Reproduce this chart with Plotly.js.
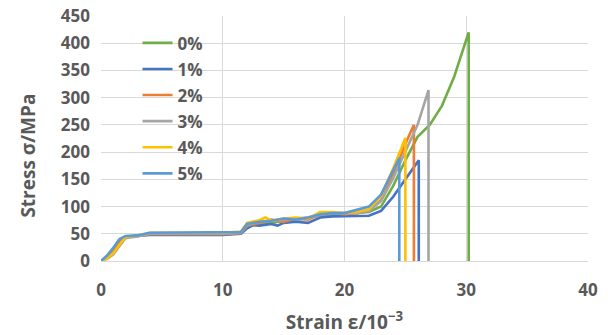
<!DOCTYPE html>
<html><head><meta charset="utf-8">
<script src="https://cdn.plot.ly/plotly-3.0.1.min.js"></script>
<style>html,body{margin:0;padding:0;background:#fff}</style>
</head><body><div id="chart" style="width:608px;height:335px"></div>
<script>
const seriesNames = ["0%", "1%", "2%", "3%", "4%", "5%"];
const seriesColors = ["#70AD47", "#4472C4", "#ED7D31", "#A5A5A5", "#FFC000", "#5B9BD5"];

const strain0 = [0,0.5,1,1.5,2,3,4,6,8,10,11.5,12,13,14,15,16,17,18,19,20,21,22,23,24,25,26,27,28,29,30.2,30.2];
const stress0 = [0,5,15,30,44,46,50,50,50,50,52,63,68,70,74,76,78,84,86,86,88,90,100,138,185,228,250,285,338,420,0];

const strain1 = [0,0.5,1,1.5,2,3,4,6,8,10,11.5,12,12.5,13,14,14.5,15,16,17,18,19,20,21,22,23,24,25,26.1,26.1];
const stress1 = [0,8,20,35,44,46,48,48,48,48,50,60,66,65,68,65,70,72,70,80,82,82,82,83,92,118,150,185,0];

const strain2 = [0,0.5,1,1.5,2,3,4,6,8,10,11.5,12,13,14,15,16,17,18,19,20,21,22,23,24,25,25.7,25.7];
const stress2 = [0,6,16,32,44,46,49,49,49,49,51,65,70,76,72,78,76,86,88,86,88,92,112,160,215,250,0];

const strain3 = [0,0.5,1,1.5,2,3,4,6,8,10,11.5,12,13,14,15,16,17,18,19,20,21,22,23,24,25,26,26.9,26.9];
const stress3 = [0,4,12,28,42,45,50,50,50,50,52,66,72,74,75,78,80,85,88,88,88,92,110,152,200,250,314,0];

const strain4 = [0,0.5,1,1.5,2,3,4,6,8,10,11.5,12,13,13.5,14,15,16,17,18,19,20,21,22,23,24,25,25];
const stress4 = [0,5,14,30,44,47,52,52,52,52,54,70,75,80,74,78,80,78,90,90,88,90,95,120,170,226,0];

const strain5 = [0,0.5,1,1.5,2,3,4,6,8,10,11.5,12,13,14,15,16,17,18,19,20,21,22,23,24,24.5,24.5];
const stress5 = [0,10,24,40,46,47,52,52,52,52,53,68,72,74,78,76,80,86,88,88,94,100,122,165,189,0];

const strains = [strain0, strain1, strain2, strain3, strain4, strain5];
const stresses = [stress0, stress1, stress2, stress3, stress4, stress5];

const xTicks = [0, 10, 20, 30, 40];
const yTicks = [0, 50, 100, 150, 200, 250, 300, 350, 400, 450];

const traces = seriesNames.map((n, i) => ({
  x: strains[i], y: stresses[i], name: n, type: 'scatter', mode: 'lines',
  legendgroup: 'g' + i,
  line: {color: seriesColors[i], width: 2.6}
}));

const fontFam = '"Open Sans", "DejaVu Sans", sans-serif';
const grey = '#595959';
const layout = {
  width: 608, height: 335,
  margin: {l: 101, r: 20, t: 16, b: 74},
  paper_bgcolor: '#fff', plot_bgcolor: '#fff',
  showlegend: true,
  legend: {x: 0.075, y: 0.962, xanchor: 'left', yanchor: 'top', bgcolor: 'rgba(0,0,0,0)',
    font: {family: fontFam, size: 17, color: grey, weight: 'bold'},
    tracegroupgap: 1, itemwidth: 30},
  xaxis: {range: [0, 40], tickvals: xTicks, showgrid: true, gridcolor: '#d9d9d9', gridwidth: 1,
    zeroline: false, showline: true, linecolor: '#d9d9d9', ticks: '', ticklabelstandoff: 14,
    tickfont: {family: fontFam, size: 17, color: grey, weight: 'bold'},
    title: {text: 'Strain ε/10<sup>−3</sup>', standoff: 15, font: {family: fontFam, size: 19, color: grey, weight: 'bold'}}},
  yaxis: {range: [0, 450], tickvals: yTicks, showgrid: true, gridcolor: '#d9d9d9', gridwidth: 1,
    zeroline: false, showline: false, ticks: '', ticklabelstandoff: 10,
    tickfont: {family: fontFam, size: 17, color: grey, weight: 'bold'}},
  annotations: [{text: 'Stress σ/MPa', textangle: -90, xref: 'paper', yref: 'paper',
    x: -0.15, y: 0.43, xanchor: 'center', yanchor: 'middle', showarrow: false,
    font: {family: fontFam, size: 19, color: grey, weight: 'bold'}}]
};
Plotly.newPlot('chart', traces, layout, {displayModeBar: false, staticPlot: true});
</script></body></html>
